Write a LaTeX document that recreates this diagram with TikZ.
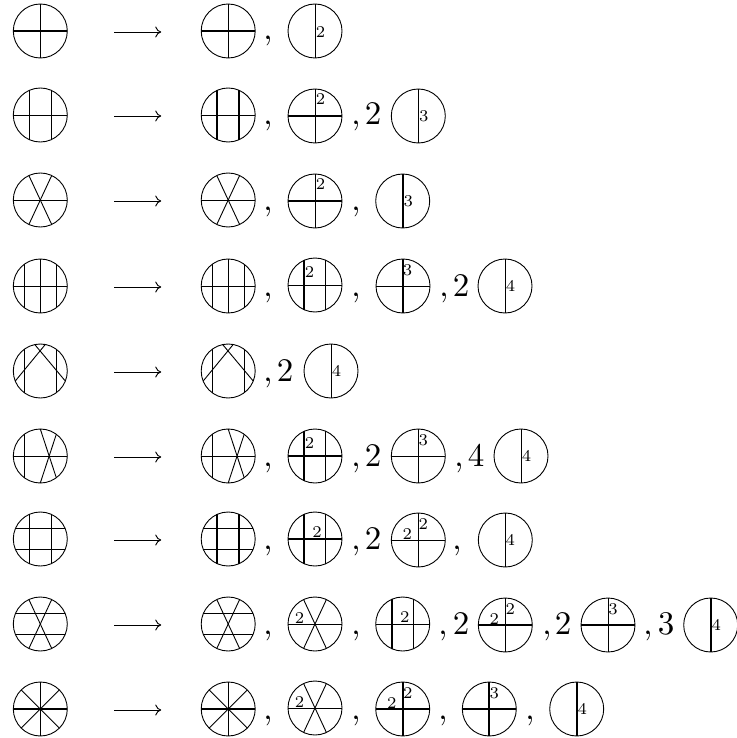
\documentclass[tikz,border=0pt]{standalone}
\usetikzlibrary{arrows.meta}
\tikzset{
  x=1pt,y=-1pt,
  ring/.style={circle,draw,line width=0.9pt,minimum size=54pt,inner sep=0pt,outer sep=0pt},
  thinl/.style={line width=0.9pt},
  thickl/.style={line width=1.9pt},
  lab/.style={inner sep=0pt,outer sep=0pt,font=\scriptsize,scale=2.35},
  big/.style={inner sep=0pt,outer sep=0pt,anchor=base,font=\normalsize,scale=3.3},
  arr/.style={line width=0.95pt,-{Computer Modern Rightarrow[length=6pt,width=11pt]},shorten <=47pt,shorten >=40pt}
}
\newcommand{\myV}[2]{\draw[#1] ({#2},{-sqrt(729-(#2)*(#2))}) -- ({#2},{sqrt(729-(#2)*(#2))});}
\newcommand{\myH}[2]{\draw[#1] ({-sqrt(729-(#2)*(#2))},{#2}) -- ({sqrt(729-(#2)*(#2))},{#2});}
\newcommand{\myS}[2]{\draw[#1] (#2:27) -- (#2+180:27);}
\newcommand{\myL}[3]{\node[lab] at (#1,#2) {#3};}
\newcommand{\myDg}[4]{\node[ring] (#1) at (#2,#3) {};\begin{scope}[shift={(#1.center)}]#4\end{scope}}
\newcommand{\myCm}[3]{\node[big] (#1) at (#2,#3) {,};}
\newcommand{\myNm}[4]{\node[big] (#1) at (#2,#3) {#4};}
\newcommand{\myAr}[2]{\draw[arr] ([yshift=-1pt]#1.east) -- ([yshift=-1pt]#2.west);}
% inner patterns
\newcommand{\crossH}{\myH{thickl}{0}\myV{thinl}{0}}
\newcommand{\crossT}{\myH{thinl}{0}\myV{thinl}{0}}
\newcommand{\crossB}{\myH{thickl}{0}\myV{thickl}{0}}
\newcommand{\crossW}{\myH{thinl}{0}\myV{thickl}{0}}
\newcommand{\myStar}{\myH{thinl}{0}\myS{thinl}{65}\myS{thinl}{115}}
\newcommand{\myLamb}{\myV{thinl}{-16}\myV{thinl}{16}\draw[thinl] (-25,10) -- (5,-26.5);\draw[thinl] (25,10) -- (-5.5,-26.4);}
\newcommand{\mySlant}{\myH{thinl}{0}\myV{thinl}{-16}\draw[thinl] (0,-27) -- (16,21.7);\draw[thinl] (16,-21.7) -- (0,27);}
\begin{document}
\begin{tikzpicture}
\useasboundingbox (0,0) rectangle (736,738);
% row 1
\myDg{a1}{40.3}{31}{\crossH}
\myDg{b1}{228.2}{31}{\crossH}
\myCm{c1}{268}{40}
\myDg{d1}{315}{31}{\myV{thinl}{0}\myL{5.5}{1}{2}}
\myAr{a1}{b1}
% row 2
\myDg{a2}{40.3}{115}{\myH{thinl}{0}\myV{thinl}{-10.8}\myV{thinl}{10.8}}
\myDg{b2}{228.2}{115}{\myH{thinl}{0}\myV{thickl}{-10.8}\myV{thickl}{10.8}}
\myCm{c2}{268}{125}
\myDg{d2}{315}{116}{\crossH\myL{5.5}{-16.5}{2}}
\myCm{e2}{356}{125}
\myNm{f2}{373}{125}{2}
\myDg{g2}{418.3}{116}{\myV{thinl}{0}\myL{5.5}{0}{3}}
\myAr{a2}{b2}
% row 3
\myDg{a3}{40.3}{200}{\myStar}
\myDg{b3}{228.2}{200}{\myStar}
\myCm{c3}{268}{210}
\myDg{d3}{315}{201}{\crossH\myL{5.5}{-16.5}{2}}
\myCm{e3}{356}{210}
\myDg{g3}{402.7}{201}{\myV{thickl}{0}\myL{5.5}{0}{3}}
\myAr{a3}{b3}
% row 4
\myDg{a4}{40.3}{286}{\myH{thinl}{0}\myV{thinl}{-16}\myV{thinl}{0}\myV{thinl}{16}}
\myDg{b4}{228.2}{286}{\myH{thinl}{0}\myV{thinl}{-16}\myV{thinl}{0}\myV{thinl}{16}}
\myCm{c4}{268}{296}
\myDg{d4}{315}{285}{\myH{thinl}{0}\myV{thickl}{-10.8}\myV{thinl}{10.8}\myL{-5.5}{-13}{2}}
\myCm{e4}{356}{296}
\myDg{g4}{403}{286}{\crossW\myL{4.5}{-16}{3}}
\myCm{h4}{444}{296}
\myNm{i4}{461}{296}{2}
\myDg{j4}{505}{286}{\myV{thinl}{0}\myL{5.5}{0}{4}}
\myAr{a4}{b4}
% row 5
\myDg{a5}{40.3}{371}{\myLamb}
\myDg{b5}{228.2}{371}{\myLamb}
\myCm{c5}{268}{381}
\myNm{f5}{285}{381}{2}
\myDg{g5}{331}{371}{\myV{thinl}{0}\myL{5.5}{0}{4}}
\myAr{a5}{b5}
% row 6
\myDg{a6}{40.3}{456}{\mySlant}
\myDg{b6}{228.2}{456}{\mySlant}
\myCm{c6}{268}{466}
\myDg{d6}{315}{456}{\myH{thickl}{0}\myV{thickl}{-10.8}\myV{thinl}{10.8}\myL{-5.5}{-13}{2}}
\myCm{e6}{356}{466}
\myNm{f6}{373}{466}{2}
\myDg{g6}{418.3}{456}{\crossT\myL{5}{-15.5}{3}}
\myCm{h6}{459}{466}
\myNm{i6}{476}{466}{4}
\myDg{j6}{521}{456}{\myV{thinl}{0}\myL{5.5}{0}{4}}
\myAr{a6}{b6}
% row 7
\myDg{a7}{40.3}{539}{\myH{thinl}{-10.8}\myH{thinl}{10.8}\myV{thinl}{-10.8}\myV{thinl}{10.8}}
\myDg{b7}{228.2}{539}{\myH{thinl}{-10.8}\myH{thinl}{10.8}\myV{thickl}{-10.8}\myV{thickl}{10.8}}
\myCm{c7}{268}{549}
\myDg{d7}{315}{539}{\myH{thickl}{0}\myV{thickl}{-10.8}\myV{thinl}{10.8}\myL{2}{-7}{2}}
\myCm{e7}{356}{549}
\myNm{f7}{373}{549}{2}
\myDg{g7}{418.3}{540}{\crossT\myL{5}{-15.5}{2}\myL{-11}{-5.5}{2}}
\myCm{h7}{457}{549}
\myDg{j7}{505.3}{540}{\myV{thinl}{0}\myL{5}{0}{4}}
\myAr{a7}{b7}
% row 8
\myDg{a8}{40.3}{624}{\myH{thinl}{-10.8}\myH{thinl}{10.8}\myS{thinl}{65}\myS{thinl}{115}}
\myDg{b8}{228.2}{624}{\myH{thinl}{-10.8}\myH{thinl}{10.8}\myS{thinl}{65}\myS{thinl}{115}}
\myCm{c8}{268}{634}
\myDg{d8}{315}{624}{\myStar\myL{-15.5}{-5.5}{2}}
\myCm{e8}{356}{634}
\myDg{g8}{402.7}{624}{\myH{thinl}{0}\myV{thickl}{-10.8}\myV{thinl}{10.8}\myL{2}{-7}{2}}
\myCm{h8}{443}{634}
\myNm{i8}{461}{634}{2}
\myDg{j8}{505.3}{625}{\crossH\myL{5}{-15.5}{2}\myL{-11}{-5.5}{2}}
\myCm{k8}{547}{634}
\myNm{l8}{563}{634}{2}
\myDg{m8}{608}{625}{\crossH\myL{5}{-15.5}{3}}
\myCm{n8}{648}{634}
\myNm{o8}{666}{634}{3}
\myDg{p8}{710.7}{625}{\myV{thickl}{0}\myL{5.5}{0}{4}}
\myAr{a8}{b8}
% row 9
\myDg{a9}{40.3}{709}{\crossH\myS{thinl}{45}\myS{thinl}{135}}
\myDg{b9}{228.2}{709}{\crossH\myS{thinl}{45}\myS{thinl}{135}}
\myCm{c9}{268}{719}
\myDg{d9}{315}{708}{\myStar\myL{-15.5}{-5.5}{2}}
\myCm{e9}{356}{719}
\myDg{g9}{402.7}{709}{\crossB\myL{5}{-15.5}{2}\myL{-11}{-5.5}{2}}
\myCm{h9}{443}{719}
\myDg{j9}{489.3}{709}{\crossB\myL{5}{-15.5}{3}}
\myCm{k9}{530}{719}
\myDg{m9}{576.7}{709}{\myV{thickl}{0}\myL{5.5}{0}{4}}
\myAr{a9}{b9}
\end{tikzpicture}
\end{document}
